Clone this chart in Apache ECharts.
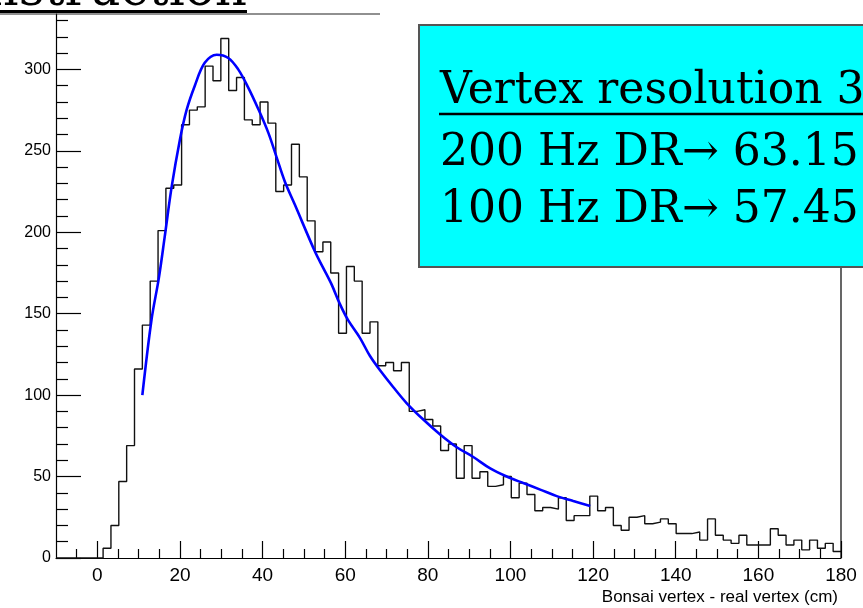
<!DOCTYPE html>
<html>
<head>
<meta charset="utf-8">
<title>Bonsai vertex resolution</title>
<script src="https://cdn.jsdelivr.net/npm/echarts@6/dist/echarts.min.js"></script>
<style>
  html, body { margin: 0; padding: 0; background: #ffffff; }
  #chart { width: 863px; height: 608px; }
</style>
</head>
<body>
<div id="chart"></div>
<script>
// Histogram: 100 bins from -10 to 180 cm
const binLow = -10;
const binWidth = 1.9;
const counts = [
  0, 0, 0, 0, 0, 0, 6, 20, 47, 69,
  116, 143, 170, 201, 227, 229, 266, 275, 277, 302,
  293, 319, 287, 295, 269, 266, 280, 267, 225, 229,
  254, 234, 207, 188, 194, 175, 138, 179, 170, 138,
  145, 118, 120, 115, 120, 90, 91, 85, 81, 66,
  70, 49, 69, 49, 53, 44, 45, 50, 37, 46,
  39, 29, 31, 30, 37, 23, 26, 26, 38, 29,
  31, 20, 17, 25, 26, 21, 22, 24, 21, 15,
  15, 16, 11, 24, 14, 11, 9, 14, 8, 8,
  8, 18, 14, 8, 11, 5, 11, 6, 9, 4
];

// Fitted curve, sampled points (cm, entries)
const fitX = [10.9, 13.1, 14.9, 16.3, 18.0, 20.0, 21.6, 23.6, 26.0, 28.9,
  31.7, 34.1, 36.5, 38.9, 41.4, 43.4, 45.4, 47.8, 52.7, 54.7,
  56.7, 58.7, 60.7, 63.6, 66.0, 68.8, 71.6, 74.9, 78.9, 82.9,
  87.0, 91.0, 95.1, 99.1, 103.1, 107.2, 111.2, 115.2, 119.3];
const fitY = [100, 146, 172, 197, 228, 257, 275, 290, 304, 309,
  307, 300, 289, 276, 261, 246, 231, 217, 188, 178,
  168, 156, 146, 135, 124, 114, 105, 95, 85, 76,
  68, 62, 55, 50, 46, 42, 38, 35, 32];

// Axis ticks
const xMajorTicks = [0, 20, 40, 60, 80, 100, 120, 140, 160, 180];
const xMinorTicks = [-5, 5, 10, 15, 25, 30, 35, 45, 50, 55, 65, 70, 75, 85, 90, 95,
  105, 110, 115, 125, 130, 135, 145, 150, 155, 165, 170, 175];
const yMajorTicks = [0, 50, 100, 150, 200, 250, 300];
const yMinorTicks = [10, 20, 30, 40, 60, 70, 80, 90, 110, 120, 130, 140, 160, 170, 180, 190,
  210, 220, 230, 240, 260, 270, 280, 290, 310, 320, 330];

const xTitle = 'Bonsai vertex - real vertex (cm)';
const boxLines = ['Vertex resolution 3', '200 Hz DR\u2192 63.15', '100 Hz DR\u2192 57.45'];
const pageTitle = 'Vertex reconstruction';

// Step outline of the histogram
const histPoints = [];
counts.forEach(function (c, k) {
  const lo = binLow + k * binWidth;
  histPoints.push([lo, c], [lo + binWidth, c]);
});
const fitPoints = fitX.map(function (x, i) { return [x, fitY[i]]; });

const axisFont = '"Liberation Sans Narrow", "Liberation Sans", Arial, sans-serif';
const serif = '"DejaVu Serif", serif';

const boxRect = { x: 419, y: 25, width: 470, height: 242 };

const chart = echarts.init(document.getElementById('chart'), null, { renderer: 'canvas' });
chart.setOption({
  animation: false,
  backgroundColor: '#ffffff',
  grid: { left: 56, right: 22, top: 14, bottom: 50, containLabel: false },
  xAxis: [
    {
      type: 'value', min: -10, max: 180, position: 'bottom',
      axisLine: { show: true, onZero: false, lineStyle: { color: '#000', width: 1.2 } },
      axisTick: { show: true, inside: true, length: 17, customValues: xMajorTicks,
        lineStyle: { color: '#000', width: 1.2 } },
      axisLabel: { show: true, customValues: xMajorTicks, margin: 8, color: '#000',
        fontFamily: axisFont, fontSize: 19 },
      splitLine: { show: false },
      name: xTitle, nameLocation: 'end', nameGap: -3,
      nameTextStyle: { align: 'right', verticalAlign: 'top', color: '#000',
        fontFamily: '"Liberation Sans", Arial, sans-serif', fontSize: 17,
        padding: [31, 0, 0, 0] }
    },
    {
      type: 'value', min: -10, max: 180, position: 'bottom',
      axisLine: { show: false, onZero: false },
      axisTick: { show: true, inside: true, length: 9, customValues: xMinorTicks,
        lineStyle: { color: '#000', width: 1.2 } },
      axisLabel: { show: false },
      splitLine: { show: false }
    }
  ],
  yAxis: [
    {
      type: 'value', min: 0, max: 334, position: 'left',
      axisLine: { show: true, onZero: false, lineStyle: { color: '#000', width: 1.2 } },
      axisTick: { show: true, inside: true, length: 25, customValues: yMajorTicks,
        lineStyle: { color: '#000', width: 1.2 } },
      axisLabel: { show: true, customValues: yMajorTicks, margin: 5, color: '#000',
        fontFamily: axisFont, fontSize: 16 },
      splitLine: { show: false }
    },
    {
      type: 'value', min: 0, max: 334, position: 'left',
      axisLine: { show: false, onZero: false },
      axisTick: { show: true, inside: true, length: 12, customValues: yMinorTicks,
        lineStyle: { color: '#000', width: 1.2 } },
      axisLabel: { show: false },
      splitLine: { show: false }
    }
  ],
  series: [
    {
      name: 'entries', type: 'line', xAxisIndex: 0, yAxisIndex: 0,
      data: histPoints, showSymbol: false, symbol: 'none',
      lineStyle: { color: '#111', width: 1.4 }, z: 3
    },
    {
      name: 'fit', type: 'line', xAxisIndex: 0, yAxisIndex: 0,
      data: fitPoints, showSymbol: false, symbol: 'none', smooth: 0.35,
      lineStyle: { color: '#0000ff', width: 2.6 }, z: 4
    }
  ]
});

// Right frame edge below the info box, placed from the axis scale
const frameRight = chart.convertToPixel({ xAxisIndex: 0 }, 180);
const frameBottom = chart.convertToPixel({ yAxisIndex: 0 }, 0);

chart.setOption({
  graphic: [
    { type: 'line', z: 40, shape: { x1: frameRight, y1: boxRect.y + boxRect.height, x2: frameRight, y2: frameBottom },
      style: { stroke: '#000', lineWidth: 1.2 } },
    // page title, mostly above the visible area
    { type: 'text', z: 50, style: { text: pageTitle, x: 247, y: -8, align: 'right',
      verticalAlign: 'middle', font: '50px ' + serif, fill: '#000' } },
    { type: 'line', z: 50, shape: { x1: 0, y1: 11.5, x2: 247, y2: 11.5 },
      style: { stroke: '#000', lineWidth: 3 } },
    { type: 'line', z: 50, shape: { x1: 0, y1: 14, x2: 380, y2: 14 },
      style: { stroke: '#222', lineWidth: 1.2 } },
    // cyan info box
    { type: 'rect', z: 60, shape: boxRect,
      style: { fill: '#00ffff', stroke: '#555', lineWidth: 2 } },
    { type: 'text', z: 61, style: { text: boxLines[0], x: 440, y: 92, align: 'left',
      verticalAlign: 'middle', font: '44px ' + serif, fill: '#000' } },
    { type: 'line', z: 61, shape: { x1: 439, y1: 114, x2: 880, y2: 114 },
      style: { stroke: '#000', lineWidth: 2.5 } },
    { type: 'text', z: 61, style: { text: boxLines[1], x: 440, y: 154, align: 'left',
      verticalAlign: 'middle', font: '44px ' + serif, fill: '#000' } },
    { type: 'text', z: 61, style: { text: boxLines[2], x: 440, y: 211, align: 'left',
      verticalAlign: 'middle', font: '44px ' + serif, fill: '#000' } }
  ]
});
</script>
</body>
</html>
